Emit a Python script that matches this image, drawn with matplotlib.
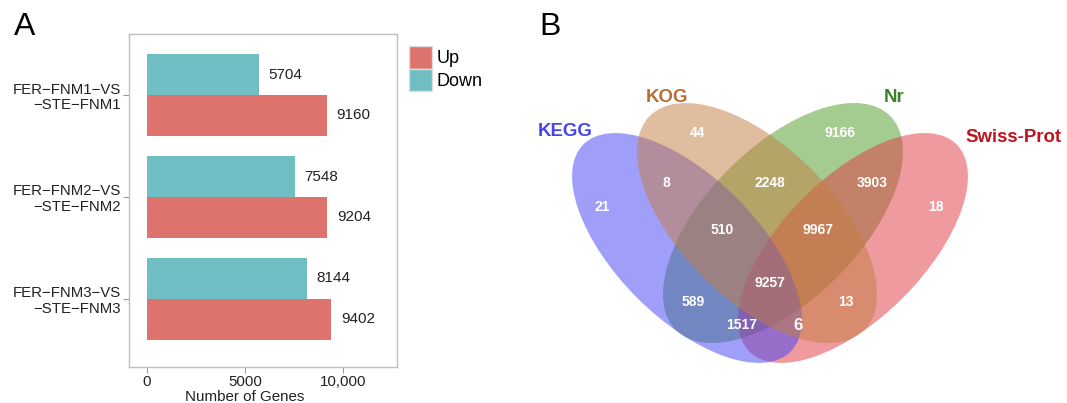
import matplotlib
matplotlib.use("Agg")
import matplotlib.pyplot as plt
from matplotlib.patches import Ellipse, Patch

plt.rcParams['font.family'] = ['Liberation Sans', 'DejaVu Sans']

# panel A data
categories = ["FER\u2212FNM1\u2212VS\n\u2212STE\u2212FNM1",
              "FER\u2212FNM2\u2212VS\n\u2212STE\u2212FNM2",
              "FER\u2212FNM3\u2212VS\n\u2212STE\u2212FNM3"]
up = [9160, 9204, 9402]
down = [5704, 7548, 8144]
xticks = [0, 5000, 10000]
xticklabels = ["0", "5000", "10,000"]

# panel B data
set_names = ["KEGG", "KOG", "Nr", "Swiss-Prot"]
region_counts = [21, 44, 9166, 18, 8, 2248, 3903, 510, 9967, 9257, 589, 13, 1517, 6]

# layout (pixel positions in the venn panel)
ell_centers = [(687, 248), (757, 223), (783, 223), (853, 248)]
ell_sizes = [(293, 141), (303, 153), (303, 153), (293, 141)]
ell_angles = [45, 45, -45, -45]
ell_colors = ["#4141F5", "#C57D41", "#4B9B23", "#E13741"]
ell_zorder = [3, 4, 1, 2]
name_pos = [(565, 131), (667, 98), (894, 98), (1014, 137)]
name_colors = ["#4646E6", "#B96E32", "#3C8228", "#BE141E"]
count_pos = [(602, 207), (698, 133), (840, 133), (936, 207), (666, 183), (770, 183),
             (872, 183), (722, 230), (818, 230), (770, 283), (693, 302), (846, 302),
             (742, 325), (798, 325)]

W, H = 1067, 403
fig = plt.figure(figsize=(W / 100, H / 100), dpi=100)

# ---- A: bar chart
ax = fig.add_axes([129 / W, 1 - 367 / H, 268 / W, 333 / H])
ypos = list(range(len(categories)))
bh = 0.4
ax.barh([y - bh / 2 for y in ypos], down, height=bh, color="#6EBEC4", label="Down")
ax.barh([y + bh / 2 for y in ypos], up, height=bh, color="#DE736E", label="Up")
for y, d, u in zip(ypos, down, up):
    ax.annotate(str(d), (d, y - bh / 2), xytext=(7, 0), textcoords="offset points",
                va="center", ha="left", fontsize=11, color="#222222")
    ax.annotate(str(u), (u, y + bh / 2), xytext=(7, 0), textcoords="offset points",
                va="center", ha="left", fontsize=11, color="#222222")
ax.set_xlim(-918, 12755)
ax.set_ylim(2.67, -0.6)
ax.set_yticks(ypos)
ax.set_yticklabels(categories, fontsize=10.8, color="#222222", linespacing=1.15)
ax.set_xticks(xticks)
ax.set_xticklabels(xticklabels, fontsize=10.8, color="#222222")
ax.tick_params(axis="both", length=4, color="#999999", width=0.8, pad=2)
for s in ax.spines.values():
    s.set_color("#BFBFBF")
    s.set_linewidth(1)
ax.set_xlabel("Number of Genes", fontsize=10.9, color="#222222")
ax.xaxis.set_label_coords(0.433, -0.068)

handles = [Patch(facecolor="#DE736E", edgecolor="#DDDDDD", label="Up"),
           Patch(facecolor="#6EBEC4", edgecolor="#DDDDDD", label="Down")]
fig.legend(handles=handles, loc="upper left", bbox_to_anchor=(409 / W, 1 - 46 / H),
           frameon=False, fontsize=13, handlelength=1.3, handleheight=1.55,
           labelspacing=0.0, handletextpad=0.25, borderpad=0, borderaxespad=0)

# ---- B: venn diagram
vx = fig.add_axes([500 / W, 0, 567 / W, 1])
vx.set_xlim(500, W)
vx.set_ylim(H, 0)
vx.axis("off")
for c, s, a, col, z in zip(ell_centers, ell_sizes, ell_angles, ell_colors, ell_zorder):
    vx.add_patch(Ellipse(c, s[0], s[1], angle=a, facecolor=col, alpha=0.5,
                         edgecolor="none", zorder=z))
for name, p, col in zip(set_names, name_pos, name_colors):
    vx.text(p[0], p[1], name, color=col, fontsize=13.4, fontweight="bold",
            ha="center", va="center")
for n, p in zip(region_counts, count_pos):
    fs = 12 if n == 6 else 10
    vx.text(p[0], p[1], str(n), color="white", fontsize=fs, fontweight="bold",
            ha="center", va="center", zorder=10)

fig.text(25 / W, 1 - 27 / H, "A", fontsize=23, ha="center", va="center")
fig.text(550 / W, 1 - 27 / H, "B", fontsize=23, ha="center", va="center")

fig.savefig("out.png", dpi=100)
